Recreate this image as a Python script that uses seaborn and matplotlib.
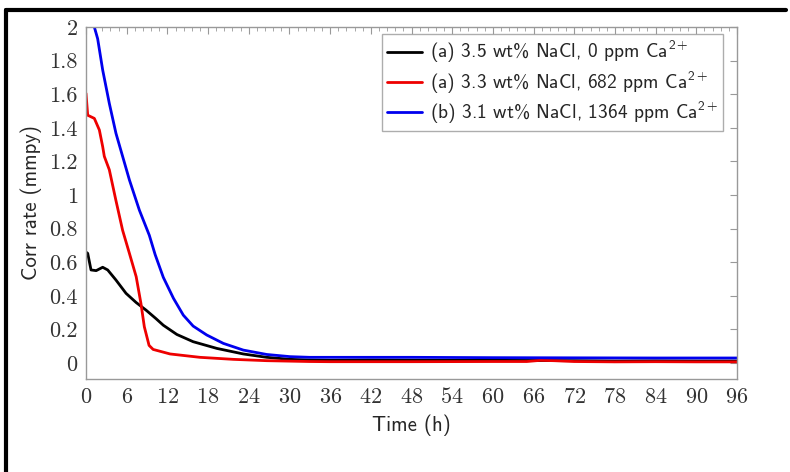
import seaborn as sns
import matplotlib.pyplot as plt
import matplotlib.ticker as mticker
from matplotlib.lines import Line2D
import pandas as pd

# (a) 3.5 wt% NaCl, 0 ppm Ca
t_black = [0, 0.25, 0.74, 1.5, 2.46, 3.2, 4.4, 5.9, 7.4, 8.85, 10.3, 11.4, 13.4, 15.8, 19.3, 23.2, 26.65, 30.1, 33, 36, 42, 48, 54, 60, 66, 72, 78, 84, 90, 96]
v_black = [0.66, 0.653, 0.554, 0.55, 0.57, 0.554, 0.495, 0.415, 0.36, 0.315, 0.265, 0.225, 0.17, 0.127, 0.087, 0.054, 0.034, 0.022, 0.018, 0.016, 0.018, 0.017, 0.016, 0.016, 0.015, 0.014, 0.012, 0.013, 0.012, 0.012]

# (a) 3.3 wt% NaCl, 682 ppm Ca
t_red = [0, 0.25, 1.23, 1.97, 2.46, 2.7, 3.44, 4.4, 5.4, 6.4, 7.4, 8.1, 8.6, 9.3, 9.9, 12.4, 16.8, 21.7, 26.65, 33, 36, 48, 60, 65, 67, 69, 72, 78, 84, 90, 96]
v_red = [1.605, 1.475, 1.456, 1.387, 1.288, 1.23, 1.15, 0.97, 0.79, 0.653, 0.514, 0.355, 0.216, 0.105, 0.081, 0.054, 0.034, 0.022, 0.014, 0.009, 0.008, 0.008, 0.009, 0.009, 0.016, 0.014, 0.009, 0.007, 0.008, 0.007, 0.007]

# (b) 3.1 wt% NaCl, 1364 ppm Ca
t_blue = [0, 1.23, 1.72, 2.46, 3.44, 4.42, 5.4, 6.4, 7.87, 9.34, 10.2, 11.4, 12.9, 14.35, 15.8, 17.8, 20.25, 23.2, 26.65, 30.1, 33, 36, 48, 60, 72, 84, 96]
v_blue = [2.15, 2.0, 1.93, 1.744, 1.545, 1.367, 1.23, 1.09, 0.91, 0.76, 0.645, 0.51, 0.385, 0.285, 0.22, 0.167, 0.117, 0.077, 0.051, 0.038, 0.034, 0.034, 0.034, 0.032, 0.031, 0.03, 0.03]

labels = [r"(a) 3.5 wt% NaCl, 0 ppm Ca$^{2+}$",
          r"(a) 3.3 wt% NaCl, 682 ppm Ca$^{2+}$",
          r"(b) 3.1 wt% NaCl, 1364 ppm Ca$^{2+}$"]
colors = ["black", "#ee0000", "#0000ee"]

sns.set_style("white")
plt.rcParams["mathtext.fontset"] = "custom"
plt.rcParams["mathtext.rm"] = "cmss10"
plt.rcParams["mathtext.it"] = "cmss10"
plt.rcParams["mathtext.sf"] = "cmss10"
plt.rcParams["font.family"] = ["cmss10", "DejaVu Sans"]
plt.rcParams["axes.formatter.use_mathtext"] = True

fig = plt.figure(figsize=(7.9, 4.72), dpi=100)
ax = fig.add_axes([86 / 790, 1 - 379 / 472, (737 - 86) / 790, (379 - 27) / 472])

for t, v, lab, c in zip([t_black, t_red, t_blue], [v_black, v_red, v_blue], labels, colors):
    df = pd.DataFrame({"t": t, "v": v})
    sns.lineplot(data=df, x="t", y="v", ax=ax, color=c, label=lab, linewidth=2)

ax.set_xlim(0, 96)
ax.set_ylim(-0.095, 2)
ax.xaxis.set_major_locator(mticker.MultipleLocator(6))
ax.xaxis.set_minor_locator(mticker.MultipleLocator(1.2))
ax.yaxis.set_major_locator(mticker.MultipleLocator(0.2))
ax.yaxis.set_major_formatter(mticker.FuncFormatter(lambda y, p: f"{y:g}"))

gray = "#999999"
for s in ax.spines.values():
    s.set_color(gray)
    s.set_linewidth(1)
ax.tick_params(which="both", direction="in", top=True, right=True, color=gray,
               labelsize=16, labelcolor="#333333")
ax.tick_params(which="major", length=5, pad=6)
ax.tick_params(which="minor", length=3)
for lab in ax.get_xticklabels() + ax.get_yticklabels():
    lab.set_family("cmr10")

ax.set_xlabel("Time (h)", fontsize=15, labelpad=5)
ax.set_ylabel("Corr rate (mmpy)", fontsize=15, labelpad=5)

leg = ax.legend(loc="upper right", bbox_to_anchor=(723 / 790, 1 - 34 / 472),
                bbox_transform=fig.transFigure, fontsize=14, frameon=True,
                fancybox=False, edgecolor=gray, handlelength=1.8,
                handletextpad=0.4, borderpad=0.25, labelspacing=0.2, borderaxespad=0)
leg.get_frame().set_linewidth(1)

# outer frame of the image
fig.add_artist(Line2D([6 / 790, 786 / 790], [1 - 10 / 472, 1 - 10 / 472], color="black", linewidth=3, transform=fig.transFigure))
fig.add_artist(Line2D([6 / 790, 6 / 790], [1 - 10 / 472, 0], color="black", linewidth=3, transform=fig.transFigure))

fig.savefig("out.png", dpi=100)
